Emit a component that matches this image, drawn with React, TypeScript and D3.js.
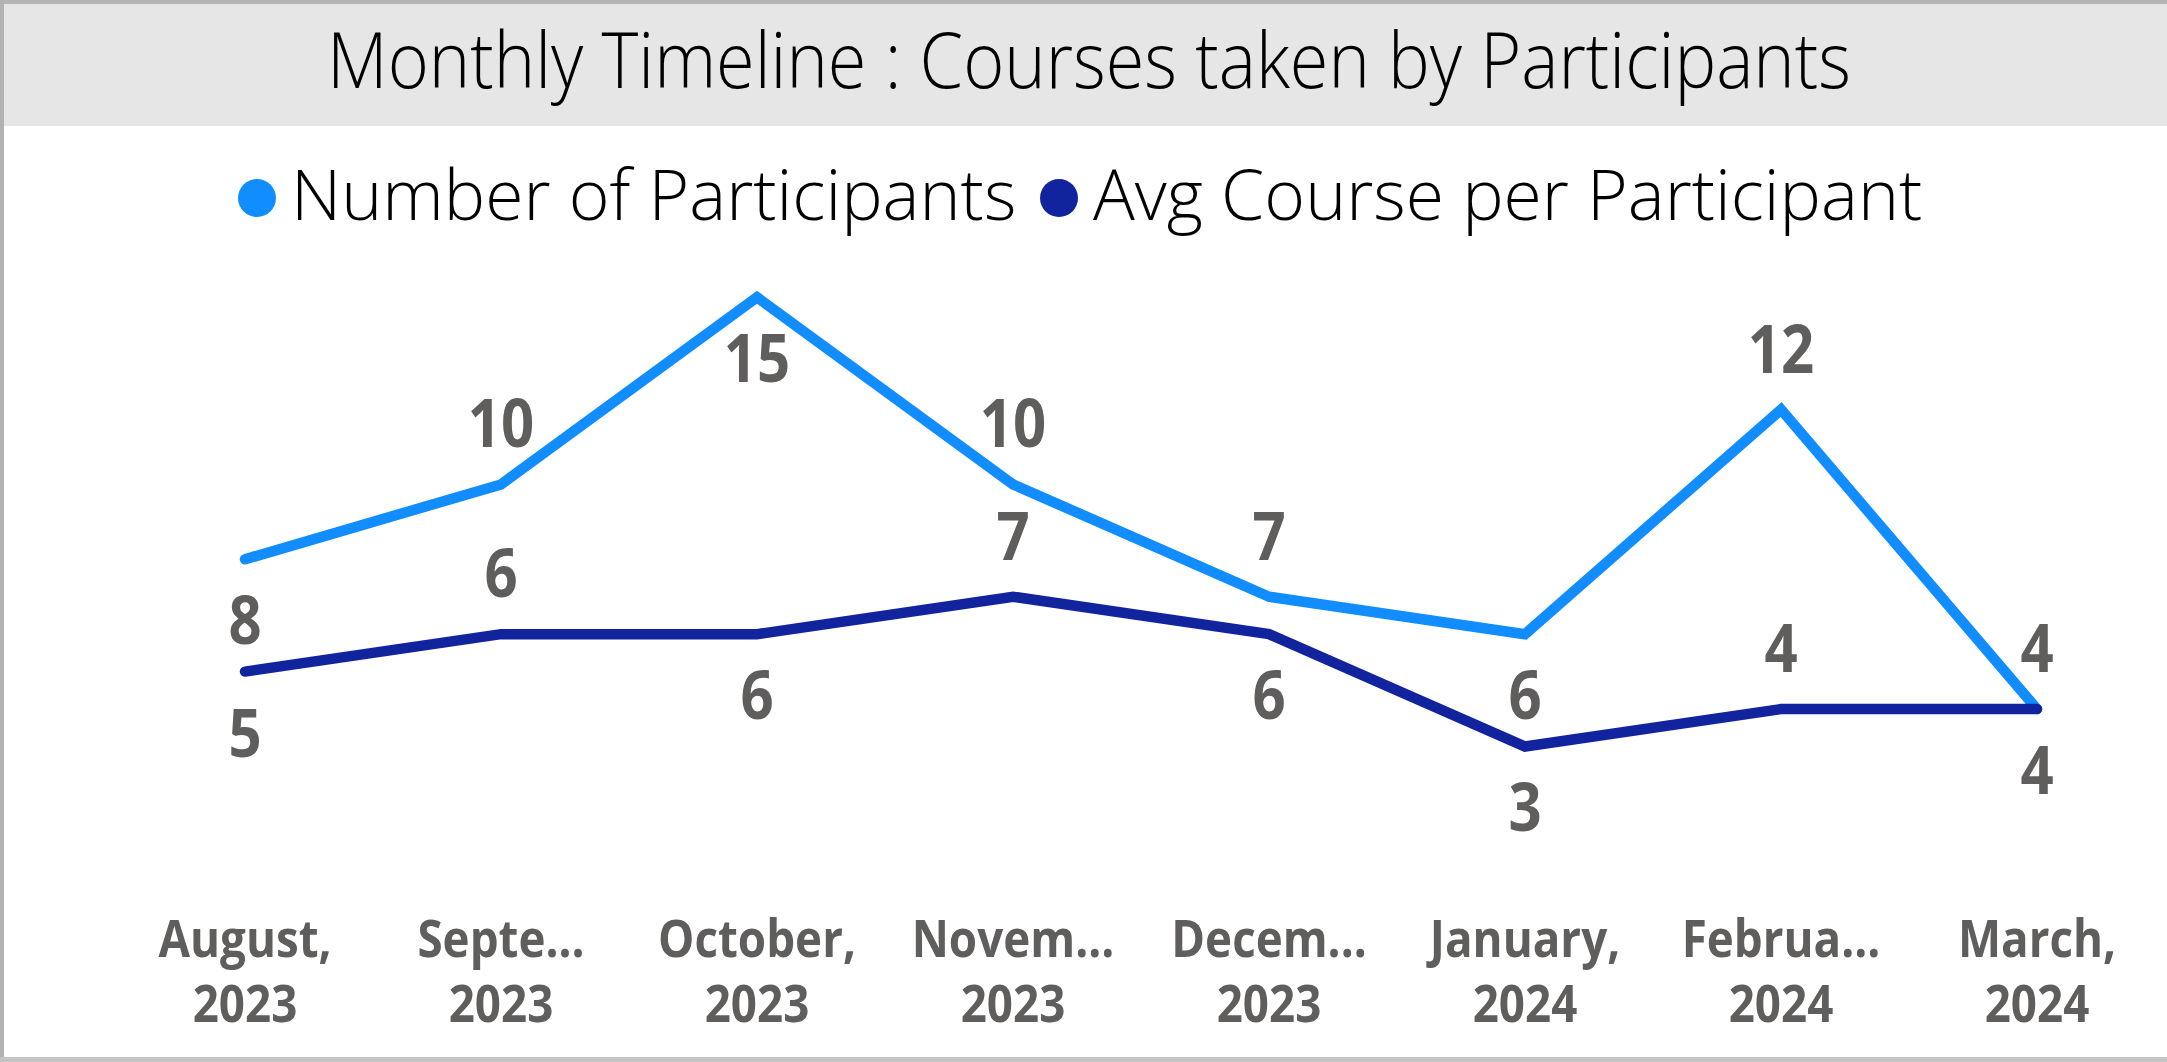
import React, { useEffect, useRef } from "react";
import * as d3 from "d3";

const months = [
  "August, 2023",
  "September, 2023",
  "October, 2023",
  "November, 2023",
  "December, 2023",
  "January, 2024",
  "February, 2024",
  "March, 2024",
];
// shown labels on the axis (Power BI truncates long month names)
const monthLine1 = ["August,", "Septe...", "October,", "Novem...", "Decem...", "January,", "Februa...", "March,"];
const monthLine2 = ["2023", "2023", "2023", "2023", "2023", "2024", "2024", "2024"];

const participants = [8, 10, 15, 10, 7, 6, 12, 4];
const avgCourses = [5, 6, 6, 7, 6, 3, 4, 4];

// where each data label sits relative to its point
const participantsLabelSide = ["below", "above", "below", "above", "above", "below", "above", "above"];
const avgLabelSide = ["below", "above", "below", "above", "below", "below", "above", "below"];

const seriesNames = ["Number of Participants", "Avg Course per Participant"];
const colors = ["#118DFF", "#12239E"];

const App: React.FC = () => {
  const svgRef = useRef<SVGSVGElement | null>(null);
  const width = 2167;
  const height = 1062;

  useEffect(() => {
    document.body.style.margin = "0";
    const svg = d3.select(svgRef.current);
    svg.selectAll("*").remove();
    svg.attr("width", width).attr("height", height);

    const sx = 0.88;
    const font = "'Open Sans', 'Noto Sans', sans-serif";

    svg.append("rect").attr("width", width).attr("height", height).attr("fill", "#ffffff");

    // title bar
    svg.append("rect").attr("x", 0).attr("y", 0).attr("width", width).attr("height", 126).attr("fill", "#e6e6e6");
    svg.append("rect").attr("x", 0).attr("y", 0).attr("width", width).attr("height", 4).attr("fill", "#b5b5b5");
    svg.append("rect").attr("x", 0).attr("y", 0).attr("width", 4).attr("height", height).attr("fill", "#b3b3b3");
    svg.append("rect").attr("x", 0).attr("y", height - 5).attr("width", width).attr("height", 5).attr("fill", "#c4c4c4");

    svg
      .append("text")
      .attr("transform", `translate(1089, 88) scale(0.9,1)`)
      .attr("text-anchor", "middle")
      .style("font-family", font)
      .style("font-weight", 300)
      .style("font-size", "78px")
      .attr("fill", "#000")
      .text("Monthly Timeline : Courses taken by Participants");

    // legend
    const legendX = [257, 1059];
    seriesNames.forEach((name, i) => {
      svg.append("circle").attr("cx", legendX[i]).attr("cy", 198).attr("r", 19).attr("fill", colors[i]);
      svg
        .append("text")
        .attr("transform", `translate(${legendX[i] + 34}, 220) scale(0.995,1)`)
        .style("font-family", font)
        .style("font-weight", 300)
        .style("font-size", "70px")
        .attr("fill", "#000")
        .text(name);
    });

    const x = d3.scalePoint<string>().domain(months).range([245, 2037]);
    const y = d3.scaleLinear().domain([0, 16]).range([858.8, 259.8]);

    const line = d3
      .line<number>()
      .x((_, i) => x(months[i]) as number)
      .y((d) => y(d));

    const series = [participants, avgCourses];
    const sides = [participantsLabelSide, avgLabelSide];

    series.forEach((vals, si) => {
      svg
        .append("path")
        .datum(vals)
        .attr("fill", "none")
        .attr("stroke", colors[si])
        .attr("stroke-width", 10.5)
        .attr("stroke-linecap", "round")
        .attr("stroke-linejoin", "miter")
        .attr("d", line);
    });

    series.forEach((vals, si) => {
      vals.forEach((v, i) => {
        const px = x(months[i]) as number;
        const py = y(v);
        const by = sides[si][i] === "above" ? py - 61 + 24 : py + 61 + 24;
        svg
          .append("text")
          .attr("transform", `translate(${px}, ${by}) scale(${sx},1)`)
          .attr("text-anchor", "middle")
          .style("font-family", font)
          .style("font-weight", 700)
          .style("font-size", "66px")
          .attr("fill", "#605E5C")
          .text(v);
      });
    });

    // x axis labels
    months.forEach((m, i) => {
      const px = x(m) as number;
      [monthLine1[i], monthLine2[i]].forEach((t, li) => {
        svg
          .append("text")
          .attr("transform", `translate(${px}, ${957 + li * 65}) scale(${sx},1)`)
          .attr("text-anchor", "middle")
          .style("font-family", font)
          .style("font-weight", 700)
          .style("font-size", "52px")
          .attr("fill", "#605E5C")
          .text(t);
      });
    });
  }, []);

  return <svg ref={svgRef} style={{ display: "block" }}></svg>;
};

export default App;
